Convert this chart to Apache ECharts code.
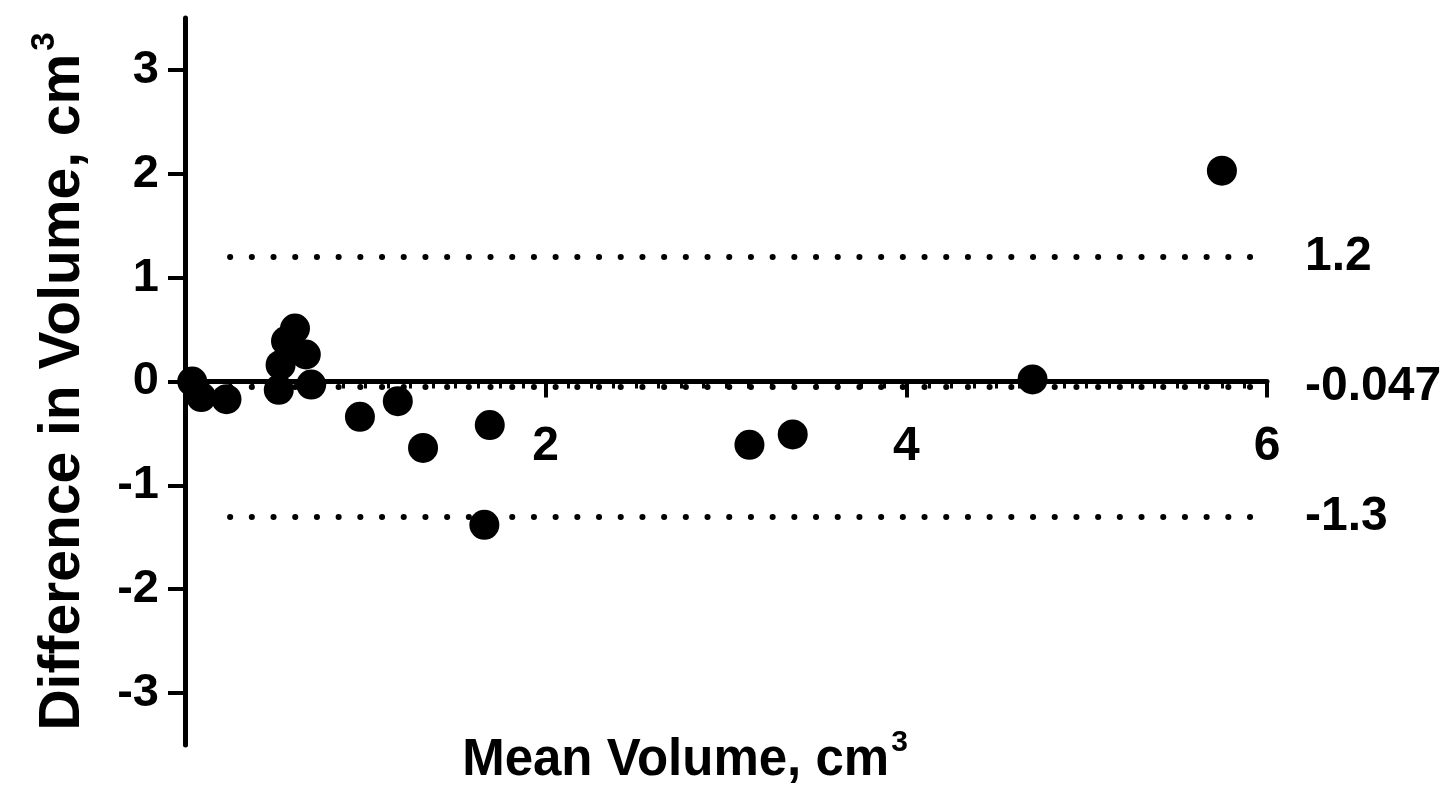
<!DOCTYPE html>
<html>
<head>
<meta charset="utf-8">
<script src="https://cdn.jsdelivr.net/npm/echarts@6/dist/echarts.min.js"></script>
<style>
  html, body { margin: 0; padding: 0; background: #fff; }
  #BlandAltmanChart { width: 1453px; height: 791px; }
</style>
</head>
<body>
<div id="BlandAltmanChart"></div>
<script>
  // mean volume (x) and difference (y)
  const meanVolume = [0.04, 0.09, 0.23, 0.52, 0.53, 0.56, 0.61, 0.67, 0.70, 0.97, 1.18, 1.32, 1.66, 1.69, 3.13, 3.37, 4.70, 5.75]
  const diffVolume = [0.00, -0.15, -0.17, -0.08, 0.16, 0.39, 0.51, 0.26, -0.03, -0.34, -0.19, -0.64, -1.38, -0.42, -0.61, -0.51, 0.02, 2.03]
  // bias and limits of agreement
  const limitValues = [1.2, -0.047, -1.3]
  const limitStartX = 0.25
  const limitEndX = 6
  const yTicks = [-3, -2, -1, 0, 1, 2, 3]

  const font = "'Liberation Sans', Arial, sans-serif"
  let points = []
  for (let i = 0; i < meanVolume.length; i++) {
    points.push([meanVolume[i], diffVolume[i]])
  }

  let limitLines = limitValues.map(v => [
    { coord: [limitStartX, v], value: v },
    { coord: [limitEndX, v], value: v }
  ])

  var option = {
    animation: false,
    grid: { left: 185, right: 186, top: 18, bottom: 46, outerBoundsMode: 'none', containLabel: false },
    xAxis: {
      type: 'value',
      min: 0,
      max: 6,
      interval: 2,
      name: '{a|Mean Volume, cm}{s|3}',
      nameLocation: 'middle',
      nameGap: -11,
      nameTextStyle: {
        padding: [0, 82, 0, 0],
        rich: {
          a: { fontSize: 51, fontWeight: 'bold', fontFamily: font, color: '#000', lineHeight: 54 },
          s: { fontSize: 30, fontWeight: 'bold', fontFamily: font, color: '#000', lineHeight: 54, padding: [0, 0, 36, 2] }
        }
      },
      axisLine: { onZero: true, lineStyle: { color: '#000', width: 5 } },
      axisTick: { show: true, length: 16, lineStyle: { color: '#000', width: 4 } },
      minorTick: { show: true, splitNumber: 16, length: 7, lineStyle: { color: '#000', width: 3 } },
      axisLabel: {
        margin: -322,
        formatter: v => (v === 0 ? '' : String(v)),
        fontSize: 48, fontWeight: 'bold', fontFamily: font, color: '#000'
      },
      splitLine: { show: false },
      minorSplitLine: { show: false }
    },
    yAxis: {
      type: 'value',
      min: -3.5,
      max: 3.5,
      name: '{a|Difference in Volume, cm}{s|3}',
      nameLocation: 'middle',
      nameRotate: 90,
      nameGap: 92,
      nameTextStyle: {
        rich: {
          a: { fontSize: 57, fontWeight: 'bold', fontFamily: font, color: '#000', lineHeight: 60 },
          s: { fontSize: 33, fontWeight: 'bold', fontFamily: font, color: '#000', lineHeight: 60, padding: [0, 0, 36, 3] }
        }
      },
      axisLine: { show: true, onZero: false, lineStyle: { color: '#000', width: 5 } },
      axisTick: { show: true, length: 17, customValues: yTicks, lineStyle: { color: '#000', width: 4 } },
      axisLabel: {
        customValues: yTicks,
        margin: 26,
        fontSize: 47, fontWeight: 'bold', fontFamily: font, color: '#000'
      },
      splitLine: { show: false }
    },
    series: [
      {
        type: 'scatter',
        data: points,
        symbol: 'circle',
        symbolSize: 30,
        itemStyle: { color: '#000', opacity: 1 },
        z: 5,
        markLine: {
          silent: true,
          symbol: ['none', 'none'],
          lineStyle: { color: '#000', width: 6, type: [0.1, 21.6], cap: 'round' },
          label: {
            show: true,
            position: 'end',
            distance: 38,
            formatter: p => String(p.value),
            fontSize: 48, fontWeight: 'bold', fontFamily: font, color: '#000'
          },
          data: limitLines
        }
      }
    ]
  }

  let chart = echarts.init(document.getElementById('BlandAltmanChart'))
  chart.setOption(option)
  window.onresize = () => {
    chart.resize()
  }
</script>
</body>
</html>
